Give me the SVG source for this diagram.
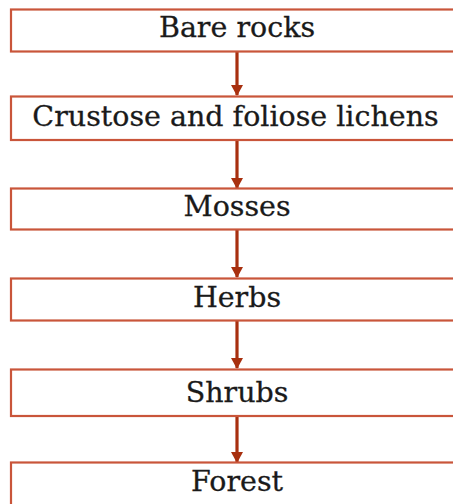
<svg xmlns="http://www.w3.org/2000/svg" width="453" height="504" viewBox="0 0 453 504">
<defs>
<style>
.box{fill:#ffffff;stroke:#c9553a;stroke-width:2.2}
.lbl{font-family:"DejaVu Serif","Liberation Serif",serif;font-size:28.5px;fill:#1a1a1a;text-anchor:middle;stroke:#1a1a1a;stroke-width:0.3}
.arr{stroke:#a8300f;stroke-width:3.2;fill:none}
</style>
<marker id="ah" markerWidth="12" markerHeight="12" refX="10" refY="6" orient="auto" markerUnits="userSpaceOnUse">
<path d="M0,0 L11,6 L0,12 Z" fill="#a8300f"/>
</marker>
</defs>
<rect width="453" height="504" fill="#ffffff"/>
<g id="connectors">
<line class="arr" x1="237" y1="52" x2="237" y2="95" marker-end="url(#ah)"/>
<line class="arr" x1="237" y1="141" x2="237" y2="188" marker-end="url(#ah)"/>
<line class="arr" x1="237" y1="230" x2="237" y2="277" marker-end="url(#ah)"/>
<line class="arr" x1="237" y1="321" x2="237" y2="368" marker-end="url(#ah)"/>
<line class="arr" x1="237" y1="417" x2="237" y2="462" marker-end="url(#ah)"/>
</g>
<g id="n1"><rect class="box" x="11" y="9.5" width="460" height="42"/><text class="lbl" x="237" y="37">Bare rocks</text></g>
<g id="n2"><rect class="box" x="11" y="96.5" width="460" height="43.5"/><text class="lbl" x="235.5" y="126">Crustose and foliose lichens</text></g>
<g id="n3"><rect class="box" x="11" y="188.5" width="460" height="41"/><text class="lbl" x="237" y="216">Mosses</text></g>
<g id="n4"><rect class="box" x="11" y="278.5" width="460" height="42"/><text class="lbl" x="237" y="307">Herbs</text></g>
<g id="n5"><rect class="box" x="11" y="369.5" width="460" height="46.5"/><text class="lbl" x="237" y="402">Shrubs</text></g>
<g id="n6"><rect class="box" x="11" y="462.5" width="460" height="60"/><text class="lbl" x="237" y="491">Forest</text></g>
</svg>
